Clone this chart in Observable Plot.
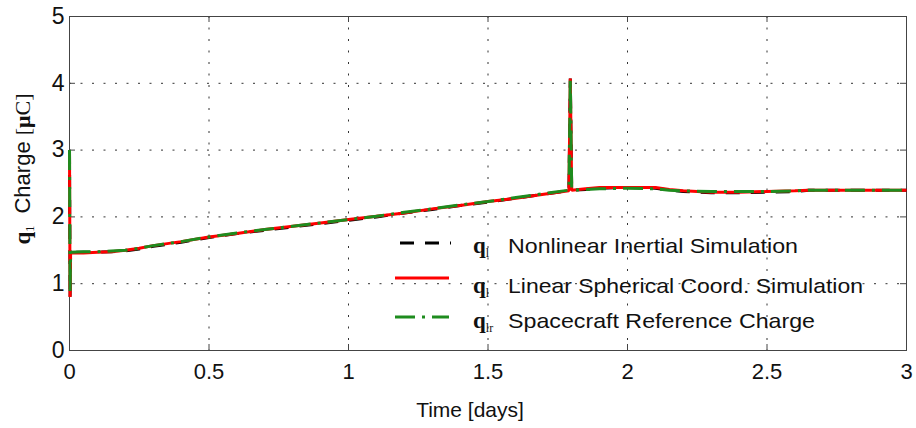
<!DOCTYPE html>
<html>
<head>
<meta charset="utf-8">
<script src="https://cdn.jsdelivr.net/npm/d3@7"></script>
<script src="https://cdn.jsdelivr.net/npm/@observablehq/plot@0.6"></script>
<style>
  html, body { margin: 0; padding: 0; background: white; }
  #chart { position: relative; width: 916px; height: 428px; }
</style>
</head>
<body>
<div id="chart"></div>
<script>
const xTicks = [0, 0.5, 1, 1.5, 2, 2.5, 3];
const yTicks = [0, 1, 2, 3, 4, 5];
const xTickLabels = ["0", "0.5", "1", "1.5", "2", "2.5", "3"];
const yTickLabels = ["0", "1", "2", "3", "4", "5"];

const time = [0, 0.002, 0.004, 0.05, 0.1, 0.15, 0.2, 0.25, 0.3, 0.4, 0.5, 0.6, 0.7, 0.8, 0.9, 1.0, 1.1, 1.2, 1.3, 1.4, 1.5, 1.6, 1.7, 1.79, 1.795, 1.8, 1.85, 1.9, 2.0, 2.1, 2.15, 2.2, 2.3, 2.4, 2.5, 2.6, 2.65, 2.7, 2.8, 2.9, 3.0];
const nonlinearInertial = [3.0, 0.78, 1.47, 1.47, 1.47, 1.48, 1.49, 1.52, 1.56, 1.62, 1.69, 1.75, 1.80, 1.85, 1.90, 1.95, 2.00, 2.06, 2.11, 2.17, 2.22, 2.28, 2.34, 2.39, 4.07, 2.40, 2.41, 2.43, 2.44, 2.43, 2.40, 2.38, 2.36, 2.36, 2.37, 2.38, 2.40, 2.40, 2.40, 2.40, 2.40];
const linearSpherical = [3.0, 0.80, 1.46, 1.46, 1.47, 1.48, 1.50, 1.53, 1.57, 1.63, 1.70, 1.75, 1.81, 1.86, 1.91, 1.96, 2.01, 2.06, 2.12, 2.17, 2.23, 2.28, 2.34, 2.39, 4.07, 2.40, 2.42, 2.44, 2.44, 2.44, 2.41, 2.39, 2.37, 2.37, 2.38, 2.39, 2.40, 2.40, 2.40, 2.40, 2.40];
const referenceCharge = [3.0, 0.85, 1.47, 1.48, 1.48, 1.49, 1.50, 1.53, 1.57, 1.63, 1.70, 1.76, 1.81, 1.86, 1.91, 1.96, 2.01, 2.07, 2.12, 2.18, 2.23, 2.29, 2.35, 2.40, 4.07, 2.40, 2.41, 2.42, 2.43, 2.42, 2.40, 2.39, 2.38, 2.38, 2.38, 2.39, 2.40, 2.40, 2.40, 2.40, 2.40];

const seriesNames = ["Nonlinear Inertial Simulation", "Linear Spherical Coord. Simulation", "Spacecraft Reference Charge"];
const seriesSubs = ["l", "l", "lr"];
const seriesColors = ["#000000", "#ff0000", "#1e8c1e"];
const seriesDash = ["14,11", null, "20,7,3,7"];

const toRows = (vals) => time.map((t, i) => ({t, v: vals[i]}));
const dataSets = [nonlinearInertial, linearSpherical, referenceCharge].map(toRows);

const gridStyle = {stroke: "#333", strokeOpacity: 1, strokeWidth: 1, strokeDasharray: "2,9.5"};

const chart = Plot.plot({
  width: 916, height: 428,
  marginLeft: 69, marginRight: 10, marginTop: 16, marginBottom: 78,
  style: {fontFamily: "'Liberation Sans', Arial, sans-serif", fontSize: "22px", background: "white", color: "#111"},
  x: {domain: [0, 3], ticks: xTicks},
  y: {domain: [0, 5], ticks: yTicks},
  marks: [
    Plot.gridX(xTicks, gridStyle),
    Plot.gridY(yTicks, gridStyle),
    Plot.ruleX(xTicks, {x: d => d, y1: 0, y2: 0.09, stroke: "#444"}),
    Plot.ruleX(xTicks, {x: d => d, y1: 5, y2: 4.91, stroke: "#444"}),
    Plot.ruleY(yTicks, {y: d => d, x1: 0, x2: 0.0215, stroke: "#444"}),
    Plot.ruleY(yTicks, {y: d => d, x1: 3, x2: 2.9785, stroke: "#444"}),
    Plot.frame({stroke: "#444", strokeWidth: 1}),
    Plot.axisX(xTicks, {tickSize: 0, tickPadding: 13, label: null, tickFormat: (d, i) => xTickLabels[i], fontSize: 22}),
    Plot.axisY(yTicks, {tickSize: 0, tickPadding: 5, label: null, tickFormat: (d, i) => yTickLabels[i], fontSize: 23}),
    ...dataSets.map((rows, i) => Plot.line(rows, {
      x: "t", y: "v", stroke: seriesColors[i], strokeWidth: 3,
      strokeDasharray: seriesDash[i], strokeLinejoin: "miter", strokeLinecap: "butt"
    }))
  ]
});

document.getElementById("chart").appendChild(chart);

const svg = d3.select(chart);
const sans = "'Liberation Sans', Arial, sans-serif";
const serif = "'Liberation Serif', 'Times New Roman', serif";

function styled(sel, family, size, weight) {
  return sel.style("font-family", family).style("font-size", size + "px").style("font-weight", weight || "normal");
}

// x axis label
styled(svg.append("text")
  .attr("x", 470).attr("y", 417)
  .style("text-anchor", "middle").attr("fill", "#111"), sans, 21)
  .text("Time [days]");

// y axis label
const yl = svg.append("text")
  .attr("transform", "translate(30,169) rotate(-90)")
  .style("text-anchor", "middle")
  .attr("fill", "#111");
styled(yl.append("tspan"), serif, 23, "bold").text("q");
styled(yl.append("tspan"), serif, 12).attr("dy", 4).text("1");
styled(yl.append("tspan"), sans, 22).attr("dy", -4).text("  Charge ");
styled(yl.append("tspan"), serif, 22).text("[");
styled(yl.append("tspan"), serif, 22, "bold").text("\u03bc");
styled(yl.append("tspan"), serif, 22).text("C]");

// legend
const lineY = [243, 278, 317];
const textY = [253, 293, 328];
const textLen = [290, 355, 307];
seriesNames.forEach((name, i) => {
  svg.append("line")
    .attr("x1", i === 0 ? 400 : 395).attr("x2", i === 0 ? 451 : 449)
    .attr("y1", lineY[i]).attr("y2", lineY[i])
    .attr("stroke", seriesColors[i]).attr("stroke-width", 3)
    .attr("stroke-dasharray", seriesDash[i]);
  const t = svg.append("text").attr("x", 473).attr("y", textY[i]).attr("fill", "#111").style("text-anchor", "start");
  styled(t.append("tspan"), serif, 23, "bold").text("q");
  styled(t.append("tspan"), serif, 12).attr("dy", 4).text(seriesSubs[i]);
  styled(svg.append("text").attr("x", 508).attr("y", textY[i])
    .attr("fill", "#111").style("text-anchor", "start"), sans, 21)
    .attr("textLength", textLen[i]).attr("lengthAdjust", "spacingAndGlyphs")
    .text(name);
});
</script>
</body>
</html>
